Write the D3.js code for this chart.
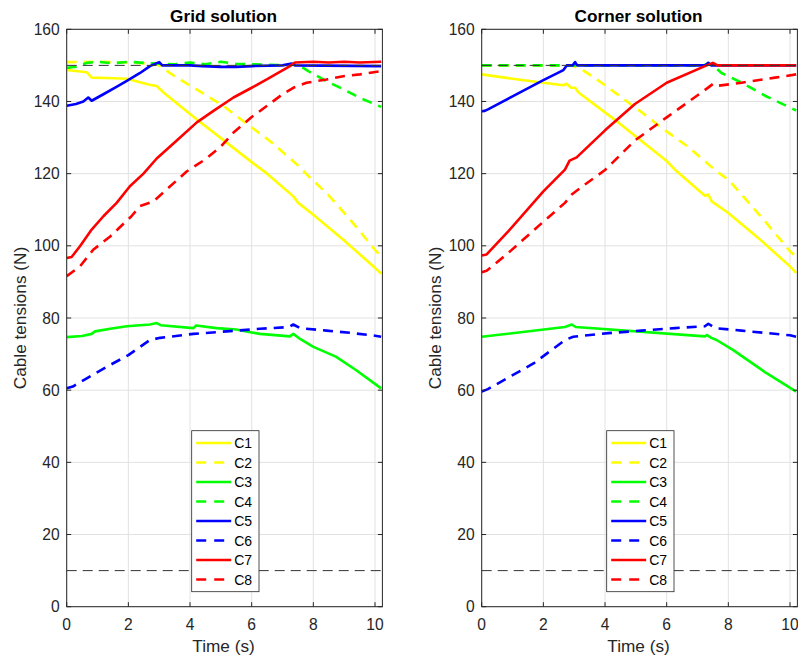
<!DOCTYPE html>
<html><head><meta charset="utf-8">
<script src="https://cdn.jsdelivr.net/npm/d3@7"></script>
<style>body{margin:0;background:#fff}svg{display:block;font-family:"Liberation Sans",Arial,Helvetica,sans-serif}</style>
</head><body><svg id="chart" width="798" height="661"></svg>
<script>
// ---------- data ----------
const seriesNames = ["C1","C2","C3","C4","C5","C6","C7","C8"];
const seriesColors = ["#ffff00","#ffff00","#00ff00","#00ff00","#0000ff","#0000ff","#ff0000","#ff0000"];
const seriesDashed = [false,true,false,true,false,true,false,true];
const xTicks = [0,2,4,6,8,10];
const yTicks = [0,20,40,60,80,100,120,140,160];
const limitLines = [150,10];
const panelTitles = ["Grid solution","Corner solution"];
const xLabel = "Time (s)";
const yLabel = "Cable tensions (N)";

// Grid solution: [time, tension]
const gridC1 = [[0,148.7],[0.65,148.1],[0.81,146.6],[1.3,146.5],[1.95,146.3],[2.65,144.7],[2.92,144.3],[3.14,142.5],[4,136.5],[4.43,133.6],[5.19,128.6],[6,123.2],[6.5,120],[7.35,113.7],[7.51,111.9],[8,108.6],[8.97,101.7],[10,93.9],[10.2,92.3]];
const gridC2 = [[0,150.9],[1,151],[2,150.8],[2.92,150.4],[3.5,147],[4.2,143.4],[5.08,138.8],[5.84,133.8],[6.6,129],[7.46,122.6],[7.84,119.3],[8.43,114.6],[9.19,107.3],[10,98.9],[10.2,97]];
const gridC3 = [[0,74.7],[0.5,75],[0.81,75.6],[0.92,76.3],[1.41,77],[1.95,77.7],[2.7,78.2],[2.92,78.6],[3.05,78],[4.11,77.2],[4.2,77.9],[4.86,77.2],[5.5,76.8],[6,76],[6.27,75.6],[7.24,74.9],[7.35,75.6],[7.57,74.2],[8,72],[8.73,69.3],[9.38,65.6],[10.2,60.5]];
const gridC4 = [[0,149.3],[0.3,149.6],[0.65,150.7],[1,151],[1.5,150.6],[2,151],[2.5,150.7],[3,150.5],[3.5,150.3],[4,150.8],[4.5,150.3],[5,151],[5.5,150.4],[6,150.3],[6.5,150.2],[7,150.1],[7.5,150.2],[7.84,148.4],[8.43,145.6],[8.97,143.4],[9.51,141],[10.2,138.5]];
const gridC5 = [[0,138.8],[0.3,139.3],[0.54,140],[0.7,141.1],[0.81,140.2],[1.19,142],[1.6,144],[1.95,145.7],[2.38,147.9],[2.7,149.8],[3.0,150.9],[3.1,150],[4,150],[4.4,149.8],[5,149.6],[5.5,149.6],[6,149.8],[7,150],[7.3,150.5],[7.4,150],[10.2,149.8]];
const gridC6 = [[0,60.5],[0.2,61],[0.65,63.3],[1.41,67],[2,69.7],[2.7,73.9],[3.03,74.5],[4.11,75.6],[5.19,76.3],[6.27,77],[7.2,77.5],[7.35,78.2],[7.57,77.2],[8.43,76.5],[9.19,75.9],[10,75.1],[10.2,74.8]];
const gridC7 = [[0,96.6],[0.16,96.9],[0.43,99.9],[0.81,104.5],[1.19,108.2],[1.62,111.9],[2.05,116.5],[2.49,120],[2.92,124.2],[3.57,129.2],[4.22,134.2],[4.76,137.4],[5.41,141.1],[6,143.8],[6.49,146.1],[7.24,149.8],[7.4,150.8],[8,151],[8.5,150.8],[9,151],[9.5,150.8],[10.2,151]];
const gridC8 = [[0,91.6],[0.43,94.3],[0.86,98.9],[1.41,102.6],[2.1,108.2],[2.38,111],[2.81,112.3],[3.24,115.6],[3.89,120.6],[4.5,124],[5,127.5],[5.41,131.4],[6,135.7],[6.5,138.8],[7,142],[7.35,143.8],[7.78,145.2],[8.43,146.1],[8.97,147],[9.51,147.5],[10.2,148.4]];

// Corner solution: [time, tension]
const cornerC1 = [[0,147.5],[1,146.3],[2,145.2],[2.65,144.5],[2.75,144.9],[2.9,143.8],[3.03,143.8],[3.14,142.5],[4.43,134.2],[6,123.5],[6.27,121.1],[7.24,113.9],[7.35,114.2],[7.46,112.3],[8,109.1],[8.97,102.2],[10,94.3],[10.2,92.5]];
const cornerC2 = [[0,150],[2.9,150],[3.24,148.9],[3.89,145.2],[4.54,141.1],[5.19,137],[5.95,132],[6.7,127.4],[7.57,121],[8,118.3],[8.43,114.2],[9.19,106.8],[10,98.5],[10.2,97]];
const cornerC3 = [[0,74.8],[2.7,77.5],[2.92,78.2],[3.05,77.5],[7.24,74.9],[7.3,75.3],[7.45,74.5],[7.62,73.9],[8.16,71.1],[9.24,64.7],[10.2,59.6]];
const cornerC4 = [[0,150],[7.2,150],[7.35,150.6],[7.5,150],[7.78,147.9],[8.43,145.2],[9.19,141.6],[10.2,137.5]];
const cornerC5 = [[0,137.3],[0.1,137.4],[0.22,137.9],[1,141.4],[2,145.9],[2.65,148.7],[2.76,150],[2.95,150],[3.03,150.9],[3.1,150],[7.25,150],[7.35,150.7],[7.45,150],[10.2,150]];
const cornerC6 = [[0,59.6],[0.2,60.3],[1.68,67.4],[2.7,73.9],[2.97,74.8],[4.11,75.8],[5.19,76.5],[6.27,77.2],[7.24,77.7],[7.35,78.4],[7.57,77.2],[8.43,76.5],[10,75.2],[10.2,74.8]];
const cornerC7 = [[0,97.3],[0.16,97.6],[0.86,104],[2,115.1],[2.7,121.1],[2.85,123.6],[3.08,124.5],[4,132],[4.97,139.3],[6,145.2],[7.24,149.8],[7.5,150.7],[7.65,150],[10.2,150]];
const cornerC8 = [[0,92.7],[0.16,93.1],[0.86,98],[1.95,106.3],[2.7,111.9],[2.92,114.2],[3.35,117],[4,121],[4.97,129.2],[6,135.6],[7.13,142.5],[7.51,144.9],[7.62,144.3],[8.43,145.2],[9.51,146.6],[10.2,147.5]];

const panelSeries = [
  [gridC1,gridC2,gridC3,gridC4,gridC5,gridC6,gridC7,gridC8],
  [cornerC1,cornerC2,cornerC3,cornerC4,cornerC5,cornerC6,cornerC7,cornerC8]
];

// ---------- layout ----------
const svg = d3.select("#chart");
const axisColor = "#262626";
const panels = [{x0:66.7, x1:382.4}, {x0:481.7, x1:797.4}];
const yTop = 29.3, yBot = 606.7;

panels.forEach((p, pi) => {
  const x = d3.scaleLinear().domain([0, 10.24]).range([p.x0, p.x1]);
  const y = d3.scaleLinear().domain([0, 160]).range([yBot, yTop]);
  const g = svg.append("g");
  const cid = "clip" + pi;
  svg.append("defs").append("clipPath").attr("id", cid)
    .append("rect").attr("x", p.x0).attr("y", yTop).attr("width", p.x1 - p.x0).attr("height", yBot - yTop);

  // grid
  g.append("g").selectAll("line").data(xTicks).join("line")
    .attr("x1", d => x(d)).attr("x2", d => x(d)).attr("y1", yTop).attr("y2", yBot)
    .attr("stroke", "#e2e2e2").attr("stroke-width", 1);
  g.append("g").selectAll("line").data(yTicks).join("line")
    .attr("y1", d => y(d)).attr("y2", d => y(d)).attr("x1", p.x0).attr("x2", p.x1)
    .attr("stroke", "#e2e2e2").attr("stroke-width", 1);

  // series
  const line = d3.line().x(d => x(d[0])).y(d => y(d[1]));
  const lg = g.append("g").attr("clip-path", `url(#${cid})`);
  panelSeries[pi].forEach((s, i) => {
    lg.append("path").attr("d", line(s)).attr("fill", "none")
      .attr("stroke", seriesColors[i]).attr("stroke-width", 2.6)
      .attr("stroke-linejoin", "round")
      .attr("stroke-dasharray", seriesDashed[i] ? "10,7" : null);
  });
  // limit lines
  lg.selectAll("line.lim").data(limitLines).join("line").attr("class", "lim")
    .attr("x1", p.x0).attr("x2", p.x1).attr("y1", d => y(d)).attr("y2", d => y(d))
    .attr("stroke", "#333").attr("stroke-width", 1).attr("stroke-dasharray", "10,6");

  // axes box
  g.append("rect").attr("x", p.x0).attr("y", yTop).attr("width", p.x1 - p.x0).attr("height", yBot - yTop)
    .attr("fill", "none").attr("stroke", axisColor).attr("stroke-width", 1);
  // ticks (inward, both sides)
  const tl = 4.5;
  const tg = g.append("g").attr("stroke", axisColor).attr("stroke-width", 1);
  xTicks.forEach(t => {
    tg.append("line").attr("x1", x(t)).attr("x2", x(t)).attr("y1", yBot).attr("y2", yBot - tl);
    tg.append("line").attr("x1", x(t)).attr("x2", x(t)).attr("y1", yTop).attr("y2", yTop + tl);
  });
  yTicks.forEach(t => {
    tg.append("line").attr("x1", p.x0).attr("x2", p.x0 + tl).attr("y1", y(t)).attr("y2", y(t));
    tg.append("line").attr("x1", p.x1).attr("x2", p.x1 - tl).attr("y1", y(t)).attr("y2", y(t));
  });
  // tick labels
  g.append("g").selectAll("text").data(xTicks).join("text")
    .attr("x", d => x(d)).attr("y", 630).attr("text-anchor", "middle")
    .attr("font-size", 15.6).attr("fill", axisColor).text(d => d);
  g.append("g").selectAll("text").data(yTicks).join("text")
    .attr("x", p.x0 - 7).attr("y", d => y(d) + 5.6).attr("text-anchor", "end")
    .attr("font-size", 15.6).attr("fill", axisColor).text(d => d);

  // labels
  g.append("text").attr("x", (p.x0 + p.x1) / 2 - 1).attr("y", 652).attr("text-anchor", "middle")
    .attr("font-size", 17.2).attr("fill", axisColor).text(xLabel);
  g.append("text").attr("transform", `translate(${p.x0 - 41},${(yTop + yBot) / 2}) rotate(-90)`)
    .attr("text-anchor", "middle").attr("font-size", 17.2).attr("fill", axisColor).text(yLabel);
  g.append("text").attr("x", (p.x0 + p.x1) / 2 - 1).attr("y", 22).attr("text-anchor", "middle")
    .attr("font-size", 17.2).attr("font-weight", "bold").attr("fill", "#000").text(panelTitles[pi]);

  // legend
  const lw = 67.3, lh = 161;
  const lx = (p.x0 + p.x1) / 2 + 0.8 - lw / 2, ly = 430.7;
  const leg = g.append("g");
  leg.append("rect").attr("x", lx).attr("y", ly).attr("width", lw).attr("height", lh)
    .attr("fill", "#fff").attr("stroke", axisColor).attr("stroke-width", 0.8);
  seriesNames.forEach((n, i) => {
    const cy = ly + 12.3 + i * 19.5;
    leg.append("line").attr("x1", lx + 4.5).attr("x2", lx + 39.5).attr("y1", cy).attr("y2", cy)
      .attr("stroke", seriesColors[i]).attr("stroke-width", 2.6)
      .attr("stroke-dasharray", seriesDashed[i] ? "10,8" : null);
    leg.append("text").attr("x", lx + 42.5).attr("y", cy + 5).attr("font-size", 14)
      .attr("fill", "#000").text(n);
  });
});
</script></body></html>
